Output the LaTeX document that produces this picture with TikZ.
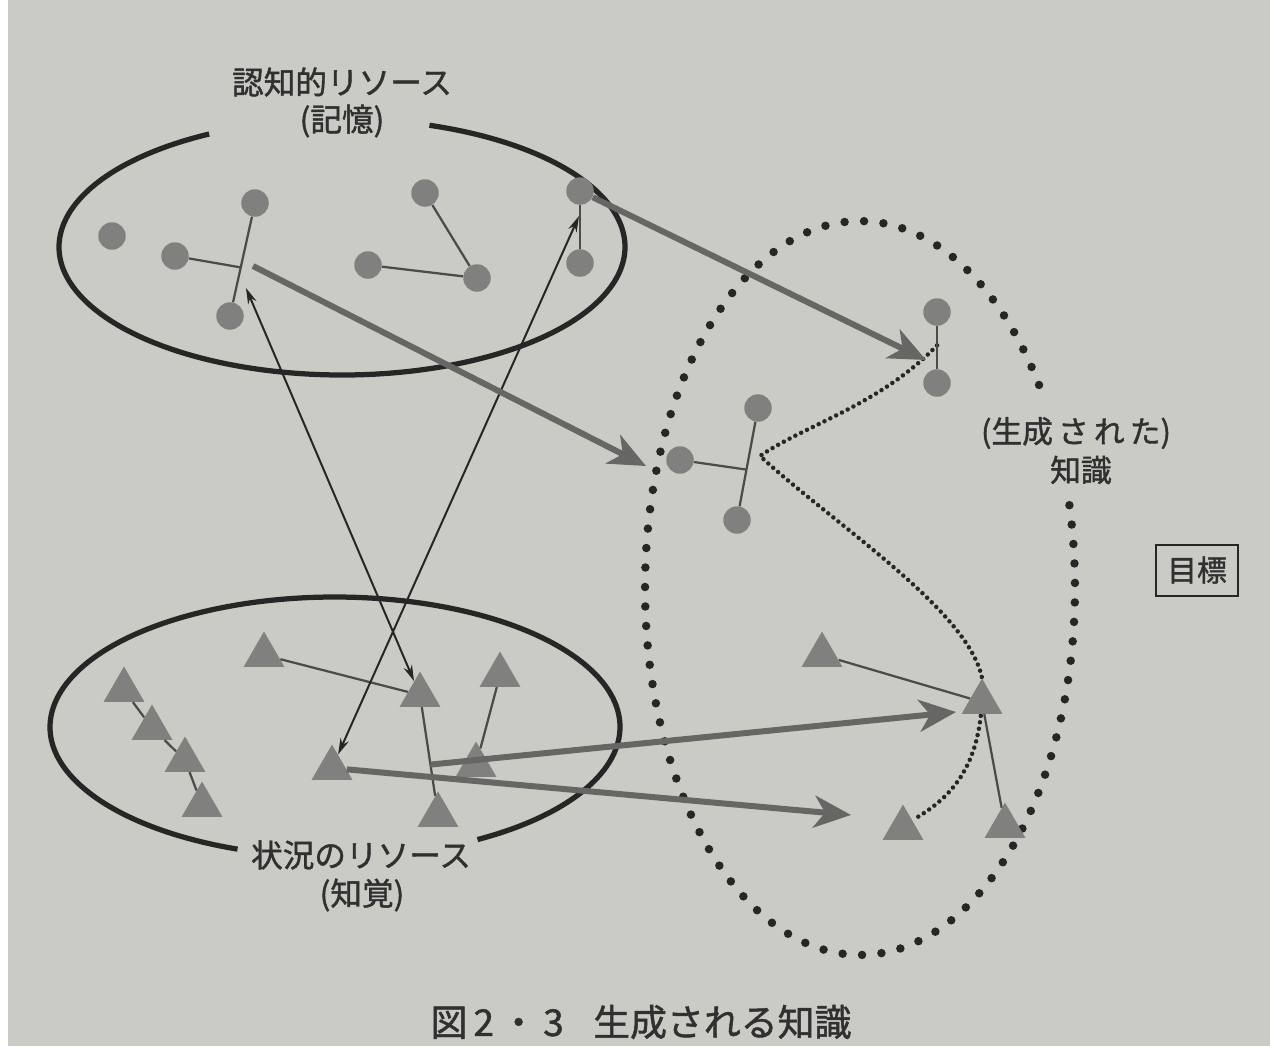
\documentclass[tikz,border=0pt]{standalone}
\usepackage{fontspec}
\setmainfont{Noto Sans CJK JP}[FakeBold=1.3]
\usetikzlibrary{shapes.geometric,arrows.meta,calc,backgrounds}
\definecolor{bgpaper}{RGB}{203,203,197}
\definecolor{inkdark}{RGB}{38,38,38}
\definecolor{nodegray}{RGB}{128,128,126}
\definecolor{arrowgray}{RGB}{102,102,100}
\definecolor{linegray}{RGB}{75,75,73}
\definecolor{textgray}{RGB}{48,48,48}
\begin{document}
\begin{tikzpicture}[x=0.02cm,y=-0.02cm,
  memdot/.style={circle,fill=nodegray,minimum size=0.55cm,inner sep=0pt},
  tri/.style={regular polygon,regular polygon sides=3,fill=nodegray,minimum size=0.94cm,inner sep=0pt},
  link/.style={draw=linegray,line width=0.045cm},
  bigarrow/.style={draw=arrowgray,line width=0.12cm,-{Stealth[length=0.74cm,width=0.64cm,inset=0.22cm]}},
  thinarrow/.style={draw=inkdark,line width=0.04cm,{Stealth[length=0.32cm,width=0.18cm]}-{Stealth[length=0.32cm,width=0.18cm]}},
  solidring/.style={draw=inkdark,line width=0.105cm},
  bigdots/.style={draw=inkdark,line width=0.17cm,line cap=round,dash pattern=on 0pt off 0.39cm},
  finedots/.style={draw=inkdark,line width=0.09cm,line cap=round,dash pattern=on 0pt off 0.13cm},
  lab/.style={text=textgray,inner sep=0pt,align=center}
]
\begin{scope}[on background layer]
  \fill[white] (0,0) rectangle (1270,1055);
  \fill[bgpaper] (8,0) rectangle (1270,1046);
  % memory ellipse
  \coordinate (ce1) at (342,247);
  \draw[solidring] ($(ce1)+(118:5.66cm and 2.56cm)$) arc[start angle=118,end angle=432,x radius=5.66cm,y radius=2.56cm];
  % perception ellipse
  \coordinate (ce2) at (335,727);
  \draw[solidring] ($(ce2)+(300:5.7cm and 2.6cm)$) arc[start angle=300,end angle=610,x radius=5.7cm,y radius=2.6cm];
  % knowledge dotted ellipse
  \coordinate (ce3) at (860,588);
  \draw[bigdots] ($(ce3)+(33.6:4.3cm and 7.34cm)$) arc[start angle=33.6,end angle=374.7,x radius=4.3cm,y radius=7.34cm];
\end{scope}
\useasboundingbox (0,0) rectangle (1270,1055);

% labels
\node[lab,font=\fontsize{18pt}{22pt}\selectfont] (memlab) at (342,82) {認知的リソース};
\node[lab,font=\fontsize{18pt}{22pt}\selectfont] (memlab2) at (342,121) {(記憶)};
\node[lab,font=\fontsize{18pt}{22pt}\selectfont] (perlab) at (361,855) {状況のリソース};
\node[lab,font=\fontsize{18pt}{22pt}\selectfont] (perlab2) at (362,895) {(知覚)};
\node[lab,font=\fontsize{17.5pt}{21pt}\selectfont] (knlab) at (1076,433) {(生成\,さ\,れ\,た)};
\node[lab,font=\fontsize{17.5pt}{21pt}\selectfont] (knlab2) at (1081,470) {知識};
\node[lab,draw=inkdark,line width=0.04cm,minimum width=1.64cm,minimum height=1.02cm,font=\fontsize{17pt}{20pt}\selectfont] (goal) at (1197,570) {目標};
\node[lab,font=\fontsize{21pt}{25pt}\selectfont] (caption) at (641,1022) {図\,2\,・\,3\hspace{0.8em}生成される知識};

% memory circles
\node[memdot] (c1) at (112,236) {};
\node[memdot] (c2) at (175,256) {};
\node[memdot] (c3) at (255,203) {};
\node[memdot] (c4) at (230,316) {};
\node[memdot] (c5) at (425,193) {};
\node[memdot] (c6) at (368,265) {};
\node[memdot] (c7) at (477,278) {};
\node[memdot] (c8) at (580,191) {};
\node[memdot] (c9) at (580,263) {};
% knowledge circles
\node[memdot] (k1) at (937,312) {};
\node[memdot] (k2) at (937,383) {};
\node[memdot] (k3) at (758,408) {};
\node[memdot] (k4) at (737,520) {};
\node[memdot] (k5) at (680,460) {};
% perception triangles
\node[tri] (t1) at (124,690) {};
\node[tri] (t2) at (152,728) {};
\node[tri] (t3) at (185,760) {};
\node[tri] (t4) at (202,805) {};
\node[tri] (t5) at (264,655) {};
\node[tri] (t6) at (420,695) {};
\node[tri] (t7) at (500,675) {};
\node[tri] (t8) at (332,768) {};
\node[tri] (t9) at (476,765) {};
\node[tri] (t10) at (438,815) {};
% knowledge triangles
\node[tri] (u1) at (822,655) {};
\node[tri] (u2) at (982,702) {};
\node[tri] (u3) at (903,828) {};
\node[tri] (u4) at (1005,826) {};

% helper coordinates
\coordinate (j1) at ($(c3)!0.57!(c4)$);
\coordinate (j2) at ($(k3)!0.55!(k4)$);
\coordinate (sA2) at (253,266);
\coordinate (sA3) at ($(t6)!0.58!(t10)$);
\coordinate (tipA1) at (926,360);
\coordinate (tipA2) at (646,466);
\coordinate (tipA3) at (956,712);
\coordinate (tipA4) at (851,815);
\coordinate (tT1) at (246,288);
\coordinate (tT2) at (579,216);
\coordinate (d0) at ($(k1)!0.47!(k2)$);
\coordinate (dturn) at (760,456);
\coordinate (dend) at (916,818);

% fine dotted connection inside knowledge
\begin{scope}[on background layer]
  \draw[finedots] (d0) .. controls (880,405) and (805,425) .. (dturn)
     .. controls (835,525) and (968,610) .. (u2.corner 1)
     .. controls (985,760) and (955,795) .. (dend);
\end{scope}

% thin links
\draw[link] (c3) -- (c4);
\draw[link] (c2) -- (j1);
\draw[link] (c5) -- (c7);
\draw[link] (c6) -- (c7);
\draw[link] (c8) -- (c9);
\draw[link] (k1) -- (k2);
\draw[link] (k3) -- (k4);
\draw[link] (k5) -- (j2);
\draw[link] (t1) -- (t2);
\draw[link] (t2) -- (t3);
\draw[link] (t3) -- (t4);
\draw[link] (t5) -- (t6);
\draw[link] (t6) -- (t10);
\draw[link] (t9) -- (t7);
\draw[link] (u1) -- (u2);
\draw[link] (u2) -- (u4);

% thin double arrows
\draw[thinarrow] (tT1) -- (t6);
\draw[thinarrow] (t8) -- (tT2);

% thick arrows
\draw[bigarrow] (c8) -- (tipA1);
\draw[bigarrow] (sA2) -- (tipA2);
\draw[bigarrow] (sA3) -- (tipA3);
\draw[bigarrow] (t8) -- (tipA4);
\end{tikzpicture}
\end{document}
